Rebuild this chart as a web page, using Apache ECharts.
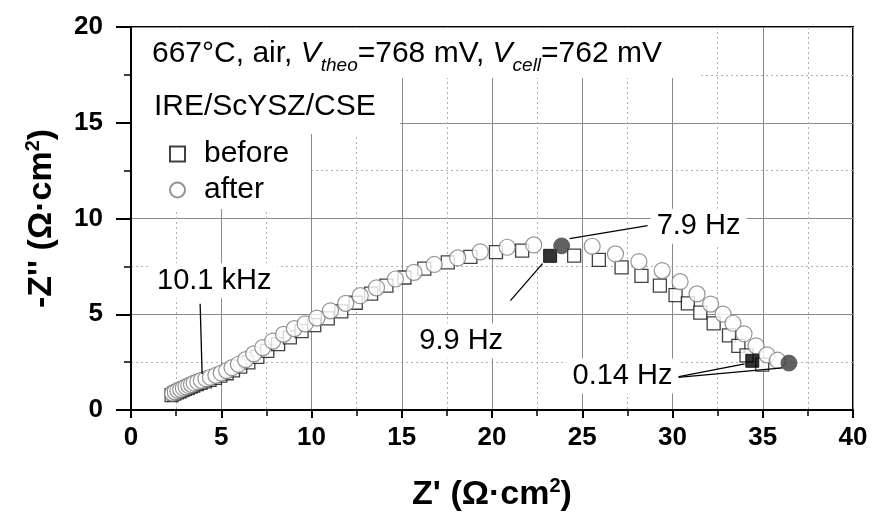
<!DOCTYPE html>
<html><head><meta charset="utf-8">
<script src="https://cdn.jsdelivr.net/npm/echarts@6/dist/echarts.min.js"></script>
<style>html,body{margin:0;padding:0;background:#fff}#c{width:875px;height:520px}</style>
</head><body><div id="c"></div>
<script>
// Z' (x) and -Z'' (y) in ohm·cm2
const beforeData = [[2.25,0.78],[2.4,0.85],[2.55,0.92],[2.7,0.98],[2.85,1.04],[3.0,1.1],[3.15,1.16],[3.3,1.22],[3.45,1.28],[3.65,1.35],[3.85,1.42],[4.1,1.5],[4.35,1.58],[4.65,1.68],[4.95,1.79],[5.3,1.92],[5.65,2.07],[6.05,2.26],[6.5,2.49],[7.0,2.77],[7.55,3.09],[8.15,3.44],[8.8,3.79],[9.45,4.12],[10.15,4.43],[10.9,4.78],[11.65,5.15],[12.45,5.6],[13.3,6.08],[14.15,6.5],[15.15,6.92],[16.25,7.38],[17.55,7.71],[18.8,8.0],[20.22,8.24],[21.67,8.32],[24.55,8.06],[25.92,7.84],[27.18,7.45],[28.28,7.0],[29.3,6.5],[30.17,6.0],[30.85,5.57],[31.54,5.09],[32.28,4.52],[33.13,3.9],[33.65,3.35],[34.1,2.85],[34.97,2.37]];
const afterData = [[2.3,0.88],[2.45,0.95],[2.6,1.02],[2.75,1.08],[2.9,1.15],[3.05,1.21],[3.2,1.28],[3.35,1.34],[3.5,1.41],[3.7,1.48],[3.9,1.55],[4.15,1.63],[4.4,1.71],[4.7,1.81],[5.0,1.93],[5.3,2.06],[5.6,2.21],[5.95,2.39],[6.35,2.63],[6.8,2.93],[7.3,3.26],[7.85,3.6],[8.45,3.95],[9.05,4.25],[9.65,4.5],[10.3,4.8],[11.05,5.18],[11.9,5.57],[12.7,5.97],[13.6,6.38],[14.65,6.84],[15.68,7.19],[16.8,7.6],[18.1,7.94],[19.35,8.26],[20.84,8.5],[22.31,8.62],[25.55,8.55],[26.84,8.15],[28.14,7.75],[29.43,7.28],[30.42,6.7],[31.36,6.06],[32.11,5.53],[32.8,5.01],[33.35,4.53],[33.96,3.98],[34.63,3.35],[35.23,2.88],[35.82,2.6]];
const beforeMarked = [[23.22,8.05],[34.42,2.57]];
const afterMarked = [[23.86,8.57],[36.45,2.45]];
const xRange = [0, 40, 5];
const yRange = [0, 20, 5];
// annotation labels (text anchor in data units, left-aligned) and leader lines
const annoTexts = [
  {text:'10.1 kHz', at:[1.11, 6.75]},
  {text:'7.9 Hz', at:[28.79, 9.6]},
  {text:'9.9 Hz', at:[15.64, 3.6]},
  {text:'0.14 Hz', at:[24.13, 1.78]}
];
const annoLines = [
  [[3.83,5.55],[3.94,1.88]],
  [[28.62,9.63],[24.3,8.95]],
  [[21.02,5.71],[22.8,7.64]],
  [[30.0,1.68],[34.0,2.41]],
  [[30.0,1.68],[36.1,2.2]]
];

const FONT = 'Liberation Sans, Arial, sans-serif';
const chart = echarts.init(document.getElementById('c'));
function axisBase(tickLen, minorLen, margin) {
  return {
    type:'value',
    axisLine:{show:true, onZero:false, lineStyle:{color:'#000', width:2}},
    axisTick:{show:true, inside:false, length:tickLen, lineStyle:{color:'#000', width:2}},
    minorTick:{show:true, splitNumber:2, length:minorLen, lineStyle:{color:'#000', width:1.5}},
    splitLine:{show:true, lineStyle:{color:'#8a8a8a', width:1}},
    minorSplitLine:{show:true, lineStyle:{color:'#b0b0b0', width:1, type:[2,3]}},
    axisLabel:{color:'#000', fontFamily:FONT, fontWeight:'bold', fontSize:26, margin:margin}
  };
}
const supRich = {sup:{fontSize:20, fontWeight:'bold', fontFamily:FONT, verticalAlign:'top', lineHeight:16}};
const titleStyle = {color:'#000', fontFamily:FONT, fontWeight:'bold', fontSize:34, lineHeight:38, rich:supRich};
chart.setOption({
  animation:false,
  backgroundColor:'#fff',
  grid:{left:131, right:22, top:27, bottom:110, show:true, borderColor:'#000', borderWidth:2, backgroundColor:'transparent'},
  xAxis:Object.assign(axisBase(8, 6, 15), {min:xRange[0], max:xRange[1], interval:xRange[2],
    name:"Z' (Ω·cm{sup|2})", nameLocation:'middle', nameGap:66, nameTextStyle:titleStyle}),
  yAxis:Object.assign(axisBase(15, 7, 28), {min:yRange[0], max:yRange[1], interval:yRange[2],
    name:"-Z'' (Ω·cm{sup|2})", nameLocation:'middle', nameGap:70, nameTextStyle:titleStyle}),
  legend:{data:['before','after'], orient:'vertical', left:169, top:139, itemWidth:15, itemHeight:15, itemGap:6,
    backgroundColor:'#fff', padding:[0,4,4,0],
    textStyle:{fontFamily:FONT, fontSize:30, color:'#000', padding:[0,0,0,14]}},
  series:[
    {name:'before', type:'scatter', data:beforeData, symbol:'rect', symbolSize:13, z:3,
      itemStyle:{color:'#fff', borderColor:'#111', borderWidth:1.3},
      markLine:{silent:true, symbol:['none','none'], label:{show:false}, animation:false,
        lineStyle:{color:'#000', width:1.3, type:'solid'},
        data:annoLines.map(l => [{coord:l[0]},{coord:l[1]}])}},
    {name:'after', type:'scatter', data:afterData, symbol:'circle', symbolSize:16, z:4,
      itemStyle:{color:'#fff', borderColor:'#7a7a7a', borderWidth:1.2}},
    {name:'before marked', type:'scatter', data:beforeMarked, symbol:'rect', symbolSize:13, z:5,
      itemStyle:{color:'#000', borderColor:'#000', borderWidth:1}},
    {name:'after marked', type:'scatter', data:afterMarked, symbol:'circle', symbolSize:16, z:5,
      itemStyle:{color:'#3a3a3a', borderColor:'#555', borderWidth:1}}
  ]
});

const g = [
  {type:'rect', shape:{x:132, y:28, width:568, height:50}, style:{fill:'#fff'}, z:1, silent:true},
  {type:'rect', shape:{x:132, y:78, width:268, height:56}, style:{fill:'#fff'}, z:1, silent:true},
  {type:'rect', shape:{x:132, y:134, width:178, height:68}, style:{fill:'#fff'}, z:1, silent:true},
  {type:'text', x:152, y:54, z:10, style:{
    text:'667°C, air, {i|V}{sub|theo}=768 mV, {i|V}{sub|cell}=762 mV',
    font:'30px '+FONT, fill:'#000', verticalAlign:'middle', lineHeight:42,
    rich:{i:{fontStyle:'italic', fontSize:30, fontFamily:FONT, lineHeight:42},
          sub:{fontStyle:'italic', fontSize:19, fontFamily:FONT, verticalAlign:'bottom', lineHeight:10}}}},
  {type:'text', x:154, y:107, z:10, style:{text:'IRE/ScYSZ/CSE', font:'30px '+FONT, fill:'#000', verticalAlign:'middle'}}
];
annoTexts.forEach(a => {
  const p = chart.convertToPixel({gridIndex:0}, a.at);
  g.push({type:'text', x:p[0], y:p[1], z:10, style:{text:a.text, font:'29px '+FONT, fill:'#000',
    align:'left', verticalAlign:'middle', backgroundColor:'#fff', padding:[3,6,3,6]}});
});
chart.setOption({graphic:g});
</script></body></html>
